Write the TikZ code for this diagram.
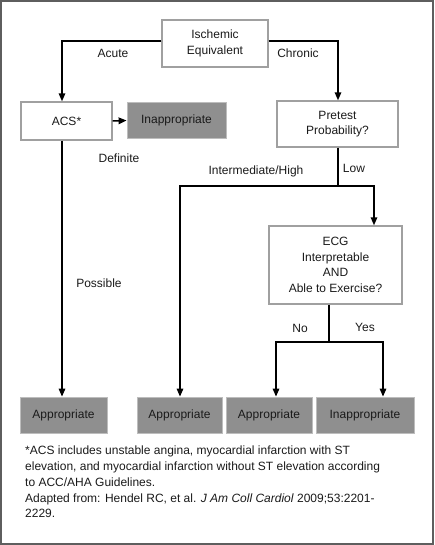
\documentclass[tikz,border=0pt]{standalone}
\usepackage{fontspec}
\setmainfont{Liberation Sans}
\usetikzlibrary{arrows.meta}
\definecolor{framegray}{HTML}{5E5E5E}
\definecolor{boxline}{HTML}{A0A0A0}
\definecolor{darkfill}{HTML}{8F8F8F}
\definecolor{inkc}{HTML}{1A1A1A}
\tikzset{
  every node/.style={font=\fontsize{12}{15.5}\selectfont, text=inkc},
  whitebox/.style={draw=boxline, line width=1.4pt, fill=white, align=center, inner sep=0pt},
  graybox/.style={draw=boxline!70, line width=0.8pt, fill=darkfill, align=center, inner sep=0pt, minimum height=36pt},
  conn/.style={draw=black, line width=1.5pt},
  arr/.style={conn, -{Triangle[length=8pt,width=6.5pt]}},
  lbl/.style={inner sep=0pt, anchor=center},
}
\begin{document}
\begin{tikzpicture}[x=1pt,y=-1pt]
\useasboundingbox (0,0) rectangle (434,545);
\draw[framegray, line width=2pt] (1,1) rectangle (433,544);

% boxes
\node[whitebox, minimum width=106pt, minimum height=47pt] (isch) at (215,43.5) {Ischemic\\Equivalent};
\node[whitebox, minimum width=91pt, minimum height=38pt] (acs) at (66.5,121) {ACS*};
\node[graybox, minimum width=99pt] (inap1) at (176.5,120.5) {Inappropriate};
\node[whitebox, minimum width=121pt, minimum height=46pt] (pre) at (337.5,124) {Pretest\\Probability?};
\node[whitebox, minimum width=133pt, minimum height=78pt] (ecg) at (335.5,265) {ECG\\Interpretable\\AND\\Able to Exercise?};
\node[graybox, minimum width=87pt] (b1) at (63.5,415) {Appropriate};
\node[graybox, minimum width=85pt] (b2) at (179.5,415) {Appropriate};
\node[graybox, minimum width=86pt] (b3) at (269,415) {Appropriate};
\node[graybox, minimum width=98pt] (b4) at (365,415) {Inappropriate};

% turning points
\coordinate (aTurn) at (62,41);
\coordinate (cTurn) at (338,41);
\coordinate (split1) at (338,186);
\coordinate (ihTurn) at (180,186);
\coordinate (lowTurn) at (374,186);
\coordinate (split2) at (329,342);
\coordinate (noTurn) at (276,342);
\coordinate (yesTurn) at (383,342);

% connectors
\draw[arr] (isch.west |- aTurn) -- (aTurn) -- (acs.north -| aTurn);
\draw[arr] (isch.east |- cTurn) -- (cTurn) -- (pre.north -| cTurn);
\draw[arr] (acs.east) -- (inap1.west);
\draw[arr] (acs.south -| aTurn) -- (b1.north -| aTurn);
\draw[conn] (pre.south -| split1) -- (split1);
\draw[arr] (split1) -- (lowTurn) -- (ecg.north -| lowTurn);
\draw[arr] (split1) -- (ihTurn) -- (b2.north -| ihTurn);
\draw[conn] (ecg.south -| split2) -- (split2);
\draw[arr] (split2) -- (noTurn) -- (b3.north -| noTurn);
\draw[arr] (split2) -- (yesTurn) -- (b4.north -| yesTurn);

% labels
\node[lbl] (lAcute) at (113,53) {Acute};
\node[lbl] (lChronic) at (298,53) {Chronic};
\node[lbl] (lDef) at (119,158) {Definite};
\node[lbl] (lPos) at (99,283) {Possible};
\node[lbl] (lIH) at (256,171) {Intermediate/High};
\node[lbl] (lLow) at (354,168) {Low};
\node[lbl] (lNo) at (300,328) {No};
\node[lbl] (lYes) at (365,327) {Yes};

% footnote
\node[anchor=north west, inner sep=0pt, align=left, font=\fontsize{12}{15.7}\selectfont] (foot) at (25,446)
{*ACS includes unstable angina, myocardial infarction with ST\\
elevation, and myocardial infarction without ST elevation according\\
to ACC/AHA Guidelines.\\
Adapted from: Hendel RC, et al. \textit{J Am Coll Cardiol} 2009;53:2201-\\
2229.};
\end{tikzpicture}
\end{document}
